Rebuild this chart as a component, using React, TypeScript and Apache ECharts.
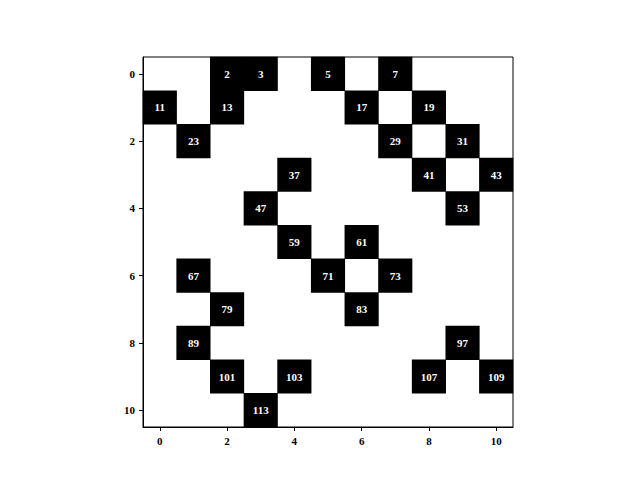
import React, { useEffect, useRef } from "react";
import * as echarts from "echarts";

const xCategories = ["0", "1", "2", "3", "4", "5", "6", "7", "8", "9", "10"];
const yCategories = ["0", "1", "2", "3", "4", "5", "6", "7", "8", "9", "10"];
const gridSize = 11;
const primes = [
  2, 3, 5, 7, 11, 13, 17, 19, 23, 29, 31, 37, 41, 43, 47, 53, 59, 61, 67, 71, 73,
  79, 83, 89, 97, 101, 103, 107, 109, 113,
];

const FONT = "'Liberation Serif', 'Times New Roman', serif";

export default function App() {
  const ref = useRef<HTMLDivElement>(null);
  useEffect(() => {
    document.body.style.margin = "0";
    const chart = echarts.init(ref.current!, null, { renderer: "svg" });
    const data = primes.map((p) => [p % gridSize, Math.floor(p / gridSize), p]);
    const axisCommon = {
      type: "category" as const,
      axisLine: { show: true, lineStyle: { color: "#000", width: 1 } },
      axisTick: {
        show: true,
        alignWithLabel: true,
        interval: 1,
        length: 4,
        lineStyle: { color: "#000", width: 1 },
      },
      axisLabel: {
        interval: 1,
        color: "#000",
        fontFamily: FONT,
        fontWeight: "bold" as const,
        fontSize: 11,
        margin: 8,
      },
      splitLine: { show: false },
      splitArea: { show: false },
    };
    chart.setOption({
      animation: false,
      backgroundColor: "#fff",
      grid: {
        left: 143,
        top: 57,
        width: 370,
        height: 370,
        show: true,
        borderColor: "#000",
        borderWidth: 1,
        backgroundColor: "#fff",
      },
      visualMap: {
        show: false,
        min: 0,
        max: 120,
        dimension: 2,
        inRange: { color: ["#000", "#000"] },
      },
      xAxis: { ...axisCommon, data: xCategories, position: "bottom" },
      yAxis: { ...axisCommon, data: yCategories, inverse: true },
      series: [
        {
          type: "heatmap",
          data,
          itemStyle: { color: "#000" },
          label: {
            show: true,
            color: "#fff",
            fontFamily: FONT,
            fontWeight: "bold",
            fontSize: 11,
            formatter: (p: any) => String(p.value[2]),
          },
          emphasis: { disabled: true },
        },
      ],
    });
    return () => chart.dispose();
  }, []);
  return <div ref={ref} style={{ width: 640, height: 480 }} />;
}
